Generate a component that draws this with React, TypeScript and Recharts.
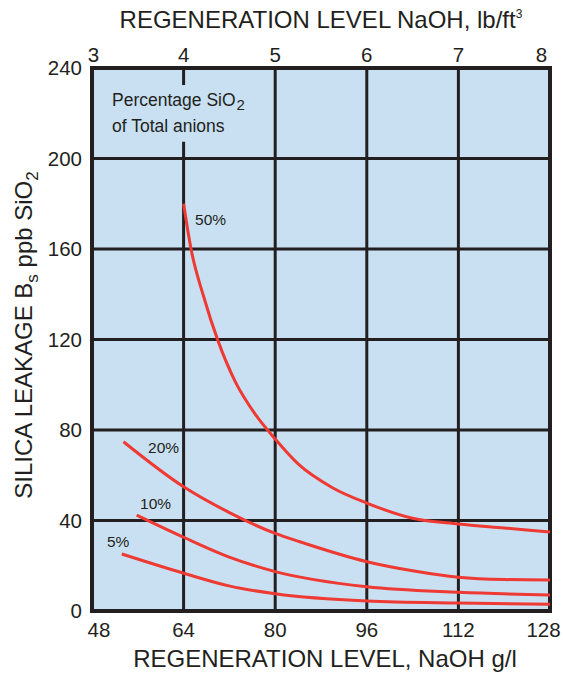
import { ComposedChart, Line, XAxis, YAxis, CartesianGrid, ReferenceArea, ReferenceDot } from "recharts"

// bottom axis: g/l, top axis: lb/ft3, left: ppb SiO2
const gplTicks = [48, 64, 80, 96, 112, 128]
const lbTicks = [3, 4, 5, 6, 7, 8]
const ppbTicks = [0, 40, 80, 120, 160, 200, 240]

const gpl50 = [64, 65.3, 67.5, 70, 73, 76.5, 80, 84, 90, 96, 104, 112, 120, 128]
const ppb50 = [180, 160, 139, 119.5, 101.5, 87, 76, 65, 54.5, 47.7, 41, 38.5, 36.7, 34.9]

const gpl20 = [53.5, 64, 72, 80, 84.3, 96, 104, 112, 120, 128]
const ppb20 = [74.8, 54.9, 43.5, 34.3, 30.6, 21.8, 17.8, 14.9, 13.9, 13.7]

const gpl10 = [55.8, 64, 72.1, 80, 96, 112, 128]
const ppb10 = [42.4, 32.6, 23.7, 17.4, 10.7, 8.3, 7.1]

const gpl5 = [53.2, 64, 72.1, 80, 96, 112, 128]
const ppb5 = [25.2, 16.7, 11.0, 7.6, 4.4, 3.5, 3.0]

const curveNames = ["50%", "20%", "10%", "5%"]
const curveLabelX = [66.0, 57.8, 56.4, 50.6]
const curveLabelY = [170.6, 69.7, 45.0, 28.2]

const toPoints = (xs: number[], ys: number[]) => xs.map((x, i) => ({ x, y: ys[i] }))

const FONT = '"Liberation Sans", Arial, Helvetica, sans-serif'
const INK = "#231f20"
const BG = "#c8e0f2"
const RED = "#ee3a33"

const curves = [
  toPoints(gpl50, ppb50),
  toPoints(gpl20, ppb20),
  toPoints(gpl10, ppb10),
  toPoints(gpl5, ppb5),
]

// end ticks are pulled in a little, like the original artwork
function makeTick(first: number, last: number, dy: string) {
  return (props: any) => {
    const { x, y, payload, index, visibleTicksCount } = props
    let shift = 0
    if (index === 0) shift = first
    if (index === visibleTicksCount - 1) shift = last
    return (
      <text x={x + shift} y={y} dy={dy} textAnchor="middle" fontFamily={FONT} fontSize={20.5} fill={INK}>
        {payload.value}
      </text>
    )
  }
}

function curveLabel(text: string) {
  return (props: any) => {
    const vb = props.viewBox || {}
    return (
      <text x={vb.x} y={vb.y} fontFamily={FONT} fontSize={15.5} fill={INK}>
        {text}
      </text>
    )
  }
}

function legendNote(props: any) {
  const vb = props.viewBox || {}
  return (
    <text x={vb.x} y={vb.y} fontFamily={FONT} fontSize={17.5} fill={INK}>
      <tspan>Percentage SiO</tspan>
      <tspan fontSize={15} dx={1} dy={4}>2</tspan>
      <tspan x={vb.x} dy={22}>of Total anions</tspan>
    </text>
  )
}

export default function App() {
  return (
    <div style={{ position: "absolute", left: 0, top: 0, width: 563, height: 673, background: "#fff" }}>
      <ComposedChart
        width={563}
        height={673}
        margin={{ top: 38, right: 13, bottom: 32, left: 32 }}
        style={{ fontFamily: FONT }}
      >
        <CartesianGrid
          stroke={INK}
          strokeWidth={3}
          fill={BG}
          fillOpacity={1}
          horizontalValues={ppbTicks}
          verticalValues={gplTicks}
        />
        <XAxis
          dataKey="x"
          type="number"
          domain={[48, 128]}
          ticks={gplTicks}
          axisLine={false}
          tickLine={false}
          height={30}
          tickMargin={5}
          tick={makeTick(7, -6.5, "0.71em")}
          label={{
            content: () => (
              <text x={325} y={667} textAnchor="middle" fontFamily={FONT} fontSize={24} fill={INK}>
                REGENERATION LEVEL, NaOH g/l
              </text>
            ),
          }}
        />
        <XAxis
          xAxisId="top"
          orientation="top"
          dataKey="x"
          type="number"
          domain={[3, 8]}
          ticks={lbTicks}
          axisLine={false}
          tickLine={false}
          height={30}
          tickMargin={0}
          tick={makeTick(1.5, -8.5, "0")}
          label={{
            content: () => (
              <text x={321} y={28} textAnchor="middle" fontFamily={FONT} fontSize={24} fill={INK}>
                REGENERATION LEVEL NaOH, lb/ft
                <tspan fontSize={12} dy={-10}>3</tspan>
              </text>
            ),
          }}
        />
        <YAxis
          type="number"
          domain={[0, 240]}
          ticks={ppbTicks}
          axisLine={false}
          tickLine={false}
          width={60}
          tickMargin={4}
          tick={{ fontSize: 20.5, fill: INK, fontFamily: FONT }}
          label={{
            content: () => (
              <text
                x={0}
                y={32}
                transform="translate(0 335) rotate(-90)"
                textAnchor="middle"
                fontFamily={FONT}
                fontSize={24}
                fill={INK}
              >
                SILICA LEAKAGE B
                <tspan fontSize={17} dy={6}>s</tspan>
                <tspan dy={-6}> ppb SiO</tspan>
                <tspan fontSize={17} dy={6}>2</tspan>
              </text>
            ),
          }}
        />
        {/* gap in the 4 lb/ft3 gridline behind the note */}
        <ReferenceArea x1={62.5} x2={65.5} y1={207.4} y2={232.5} fill={BG} fillOpacity={1} stroke="none" />
        <ReferenceDot x={51.5} y={223.2} r={0} fill="none" stroke="none" label={legendNote} />
        {/* keeps the top lb/ft3 axis alive */}
        <Line
          xAxisId="top"
          data={lbTicks.map((v) => ({ x: v, y: null }))}
          dataKey="y"
          stroke="none"
          dot={false}
          activeDot={false}
          isAnimationActive={false}
        />
        {curves.map((pts, i) => (
          <Line
            key={curveNames[i]}
            data={pts}
            dataKey="y"
            type="monotone"
            stroke={RED}
            strokeWidth={3}
            dot={false}
            activeDot={false}
            isAnimationActive={false}
          />
        ))}
        {curveNames.map((n, i) => (
          <ReferenceDot key={n} x={curveLabelX[i]} y={curveLabelY[i]} r={0} fill="none" stroke="none" label={curveLabel(n)} />
        ))}
        <ReferenceArea x1={48} x2={128} y1={0} y2={240} fill="none" stroke={INK} strokeWidth={4} />
      </ComposedChart>
    </div>
  )
}
